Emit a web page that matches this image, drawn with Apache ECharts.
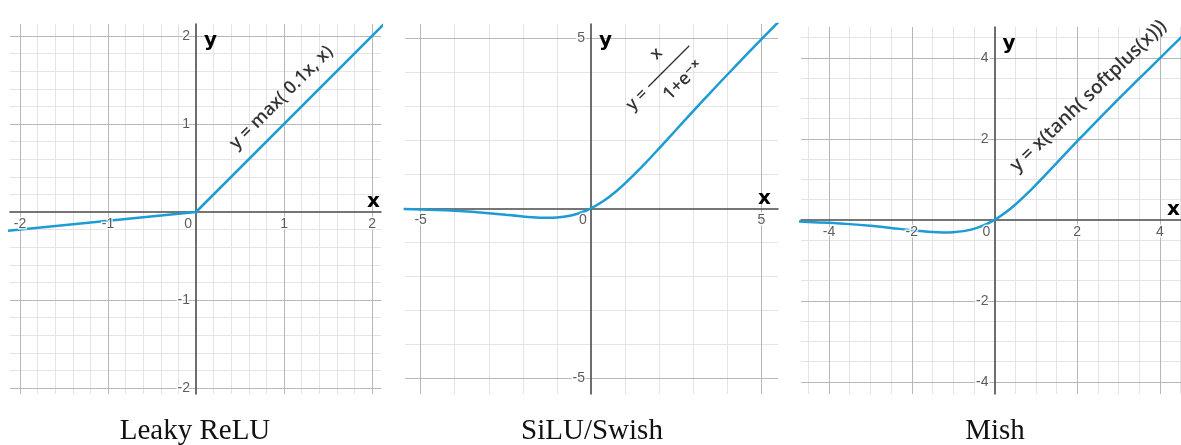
<!DOCTYPE html>
<html>
<head>
<meta charset="utf-8">
<title>Activation functions</title>
<script src="https://cdn.jsdelivr.net/npm/echarts@6/dist/echarts.min.js"></script>
<style>
  html, body { margin: 0; padding: 0; background: #ffffff; }
  #chart { width: 1181px; height: 445px; }
</style>
</head>
<body>
<div id="chart"></div>
<script>
// ---- curve samples ----
const leakyX = [-2.2, 0, 2.2];
const leakyY = [-0.22, 0, 2.2];

const siluX = [-5.5, -5, -4.5, -4, -3.5, -3, -2.5, -2, -1.5, -1.25, -1, -0.75, -0.5, -0.25,
               0, 0.25, 0.5, 0.75, 1, 1.5, 2, 2.5, 3, 3.5, 4, 4.5, 5, 5.5];
const siluY = [-0.022, -0.033, -0.049, -0.072, -0.103, -0.142, -0.190, -0.238, -0.274, -0.278, -0.269, -0.241, -0.189, -0.109,
               0, 0.141, 0.311, 0.509, 0.731, 1.226, 1.762, 2.310, 2.858, 3.397, 3.928, 4.451, 4.967, 5.478];

const mishX = [-4.75, -4.5, -4, -3.5, -3, -2.5, -2, -1.5, -1.25, -1, -0.75, -0.5, -0.25,
               0, 0.25, 0.5, 0.75, 1, 1.5, 2, 2.5, 3, 3.5, 4, 4.5, 4.75];
const mishY = [-0.041, -0.050, -0.073, -0.104, -0.146, -0.197, -0.253, -0.298, -0.308, -0.303, -0.277, -0.221, -0.130,
               0, 0.170, 0.375, 0.610, 0.865, 1.403, 1.944, 2.471, 2.987, 3.494, 3.997, 4.499, 4.749];

// ---- tick labels ----
const leakyXTicks = [-2, -1, 0, 1, 2];
const leakyYTicks = [-2, -1, 1, 2];
const siluXTicks = [-5, 0, 5];
const siluYTicks = [-5, 5];
const mishXTicks = [-4, -2, 0, 2, 4];
const mishYTicks = [-4, -2, 2, 4];

// ---- captions ----
const captions = ['Leaky ReLU', 'SiLU/Swish', 'Mish'];

// ---- styling ----
const CURVE = '#1c9bd4';
const AXIS = '#4a4a4a';
const MAJOR = '#b7b7b7';
const MINOR = '#e4e4e4';
const TICK_TEXT = '#333333';
const LABEL_FONT = '"Liberation Sans", Arial, sans-serif';
const HAND_FONT = '"Open Sans", "DejaVu Sans", sans-serif';

const panels = [
  {
    grid: { left: 10, top: 24, width: 371, height: 370 },
    xRange: [-2.114, 2.102], yRange: [-2.068, 2.136],
    major: 1, minor: 0.2,
    xTicks: leakyXTicks, yTicks: leakyYTicks,
    xs: leakyX, ys: leakyY, smooth: false,
    xNameGap: -1,
    note: { at: [0.97, 1.30], rotate: 45, size: 18, text: 'y = max( 0.1x, x)' },
    caption: { x: 195 }
  },
  {
    grid: { left: 405, top: 24, width: 373, height: 370 },
    xRange: [-5.46, 5.49], yRange: [-5.46, 5.42],
    major: 5, minor: 1,
    xTicks: siluXTicks, yTicks: siluYTicks,
    xs: siluX, ys: siluY, smooth: 0.3,
    xNameGap: -7,
    note: {
      at: [2.0, 3.84], rotate: 45, size: 17,
      text: '{pad|}{num|x}\n{eq|y =}{bar|──────}\n{pad|}{den|1+e⁻ˣ}'
    },
    caption: { x: 592 }
  },
  {
    grid: { left: 801, top: 27, width: 380, height: 367 },
    xRange: [-4.677, 4.508], yRange: [-4.30, 4.765],
    major: 2, minor: 0.5,
    xTicks: mishXTicks, yTicks: mishYTicks,
    xs: mishX, ys: mishY, smooth: 0.3,
    xNameGap: -1,
    note: { at: [2.27, 3.06], rotate: 44, size: 19, text: 'y = x(tanh( softplus(x)))' },
    caption: { x: 995 }
  }
];

// Grid lines (minor first, then major on top); the zero lines are the axes themselves.
function gridLines(p) {
  const minorItems = [], majorItems = [];
  const minorStyle = { type: 'solid', color: MINOR, width: 1 };
  const majorStyle = { type: 'solid', color: MAJOR, width: 1 };
  [['xAxis', p.xRange], ['yAxis', p.yRange]].forEach(([key, r]) => {
    const k0 = Math.ceil(r[0] / p.minor - 1e-9);
    const k1 = Math.floor(r[1] / p.minor + 1e-9);
    for (let k = k0; k <= k1; k++) {
      const v = Math.round(k * p.minor * 1e6) / 1e6;
      if (v === 0) continue;
      const q = v / p.major;
      const isMajor = Math.abs(q - Math.round(q)) < 1e-6;
      const item = { lineStyle: isMajor ? majorStyle : minorStyle };
      item[key] = v;
      (isMajor ? majorItems : minorItems).push(item);
    }
  });
  return minorItems.concat(majorItems);
}

function pairs(xs, ys) {
  return xs.map((x, i) => [x, ys[i]]);
}

const tickText = {
  show: true, color: TICK_TEXT, fontSize: 14, fontFamily: LABEL_FONT,
  textBorderColor: '#ffffff', textBorderWidth: 3
};
const nameText = { fontFamily: '"DejaVu Sans", sans-serif', color: '#000' };
const handText = { fontFamily: HAND_FONT, fontWeight: 600, color: '#000' };

const option = {
  backgroundColor: '#ffffff',
  animation: false,
  grid: panels.map(p => Object.assign({ outerBoundsMode: 'none', containLabel: false }, p.grid)),
  xAxis: panels.map((p, i) => ({
    gridIndex: i,
    type: 'value',
    min: p.xRange[0], max: p.xRange[1],
    z: 3,
    axisLine: { onZero: true, lineStyle: { color: AXIS, width: 1.6 } },
    axisTick: { show: false },
    splitLine: { show: false },
    axisLabel: { show: false },
    name: 'x',
    nameLocation: 'end',
    nameGap: p.xNameGap,
    nameTextStyle: Object.assign({
      fontSize: 20, fontWeight: 'bold', align: 'right', verticalAlign: 'bottom'
    }, nameText)
  })),
  yAxis: panels.map((p, i) => ({
    gridIndex: i,
    type: 'value',
    min: p.yRange[0], max: p.yRange[1],
    z: 3,
    axisLine: { onZero: true, lineStyle: { color: AXIS, width: 1.6 } },
    axisTick: { show: false },
    splitLine: { show: false },
    axisLabel: { show: false },
    name: 'y',
    nameLocation: 'end',
    nameGap: -7,
    nameTextStyle: Object.assign({
      fontSize: 20, fontWeight: 'bold', align: 'left', verticalAlign: 'top', padding: [0, 0, 0, 8]
    }, nameText)
  })),
  series: [].concat(
    // graph-paper grid
    panels.map((p, i) => ({
      type: 'line', xAxisIndex: i, yAxisIndex: i, data: [], z: 1, silent: true,
      markLine: {
        z: 1, silent: true, symbol: ['none', 'none'], animation: false,
        label: { show: false }, emphasis: { disabled: true },
        data: gridLines(p)
      }
    })),
    // function curves
    panels.map((p, i) => ({
      type: 'line', xAxisIndex: i, yAxisIndex: i, z: 4, silent: true,
      data: pairs(p.xs, p.ys),
      smooth: p.smooth, showSymbol: false, clip: true,
      lineStyle: { color: CURVE, width: 2.5 }
    })),
    // numbers along the horizontal axis
    panels.map((p, i) => ({
      type: 'scatter', xAxisIndex: i, yAxisIndex: i, z: 5, silent: true,
      symbolSize: 0.1, itemStyle: { color: 'rgba(0,0,0,0)' },
      data: p.xTicks.map(v => (v === 0
        ? { value: [v, 0], label: { offset: [-8, 0] } }
        : { value: [v, 0] })),
      label: Object.assign({
        position: 'bottom', distance: 5,
        formatter: d => String(d.value[0])
      }, tickText)
    })),
    // numbers along the vertical axis
    panels.map((p, i) => ({
      type: 'scatter', xAxisIndex: i, yAxisIndex: i, z: 5, silent: true,
      symbolSize: 0.1, itemStyle: { color: 'rgba(0,0,0,0)' },
      data: p.yTicks.map(v => [0, v]),
      label: Object.assign({
        position: 'left', distance: 6,
        formatter: d => String(d.value[1])
      }, tickText)
    })),
    // formula annotations along each curve
    panels.map((p, i) => {
      const s = p.note.size;
      const frag = Object.assign({ fontSize: s, lineHeight: 19 }, handText);
      return {
        type: 'scatter', xAxisIndex: i, yAxisIndex: i, z: 6, silent: true,
        data: [p.note.at], symbolSize: 0.1,
        itemStyle: { color: 'rgba(0,0,0,0)' },
        label: Object.assign({
          show: true, position: 'inside', rotate: p.note.rotate,
          formatter: p.note.text,
          fontSize: s, lineHeight: 19,
          rich: {
            pad: Object.assign({ width: 30 }, frag),
            eq: Object.assign({ width: 30 }, frag),
            num: Object.assign({ width: 62, align: 'center' }, frag),
            bar: Object.assign({ width: 62, align: 'center' }, frag, { fontWeight: 'normal', fontFamily: '"DejaVu Sans", sans-serif', fontSize: 16 }),
            den: Object.assign({ width: 62, align: 'center' }, frag, { fontSize: 18 })
          }
        }, handText)
      };
    })
  ),
  graphic: panels.map((p, i) => ({
    type: 'text',
    x: p.caption.x, y: 431,
    silent: true,
    style: {
      text: captions[i],
      font: '29px "Liberation Serif", "Times New Roman", serif',
      fill: '#111',
      align: 'center', verticalAlign: 'middle'
    }
  }))
};

const chart = echarts.init(document.getElementById('chart'), null, { renderer: 'canvas' });
chart.setOption(option);
</script>
</body>
</html>
